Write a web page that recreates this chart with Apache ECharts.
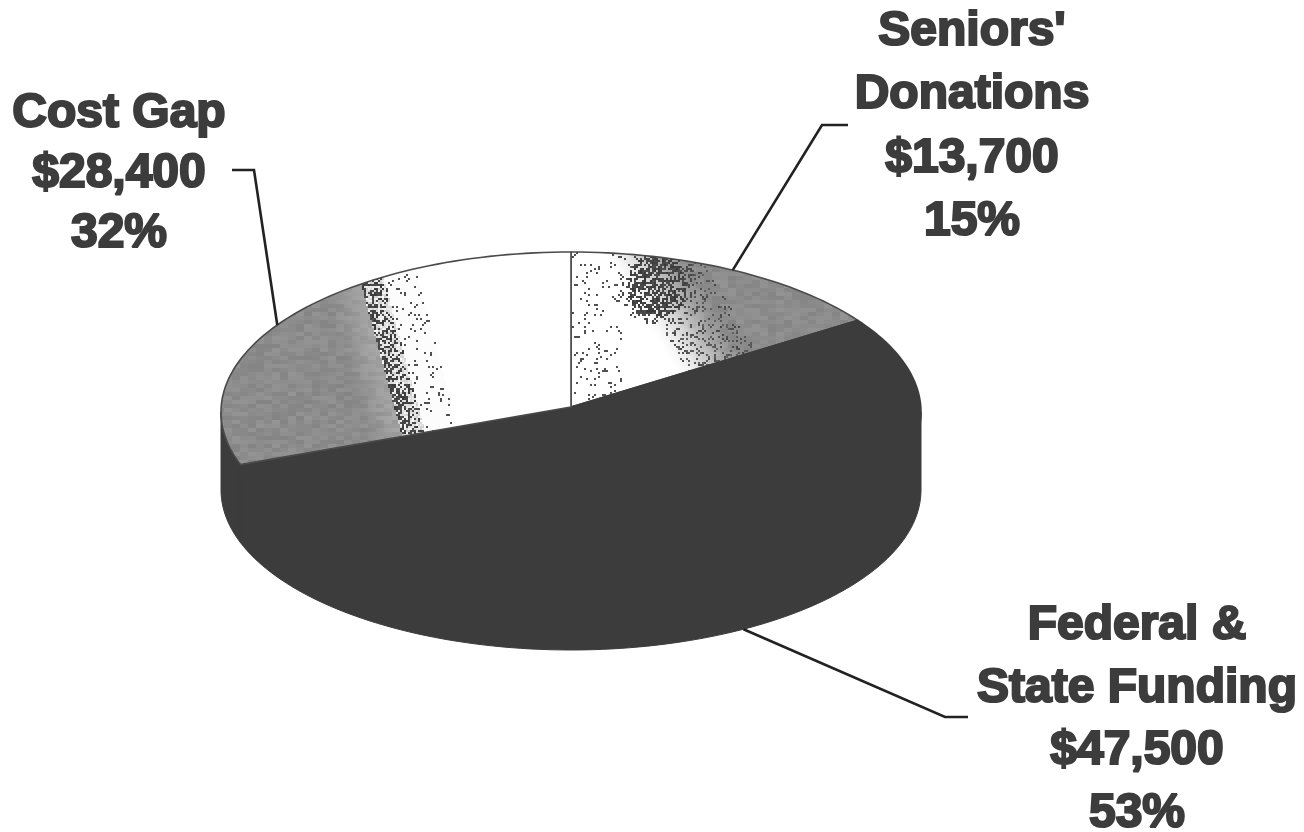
<!DOCTYPE html>
<html>
<head>
<meta charset="utf-8">
<title>Funding sources</title>
<style>html,body{margin:0;padding:0;background:#fff}#chart{width:1304px;height:832px}</style>
<script src="https://cdn.jsdelivr.net/npm/echarts@6/dist/echarts.min.js"></script>
</head>
<body>
<div id="chart"></div>
<script>
// Funding sources, clockwise from twelve o'clock
const sliceNames = ["Seniors'\nDonations", "Federal &\nState Funding", "Cost Gap"];
const amounts = [13700, 47500, 28400];
const amountLabels = ["$13,700", "$47,500", "$28,400"];
const percentLabels = ["15%", "53%", "32%"];

// Pie geometry in pixels
const disc = { cx: 571, cy: 412, rx: 350, ry: 160, depth: 78, apexX: 571, apexY: 407 };
const labelBoxes = [
  { x: 972, y: 127, lineHeight: 63.5, elbow: [822, 125], end: [848, 125] },
  { x: 1137, y: 720, lineHeight: 62.5, elbow: [945, 717], end: [968, 717] },
  { x: 119, y: 174, lineHeight: 60, elbow: [254, 170], end: [232, 170] }
];
const INK = '#3c3c3c';
const total = amounts.reduce((a, b) => a + b, 0);

// Integer hash used for the halftone grain of the lit slices
function grain(x, y) {
  let h = (x * 374761393 + y * 668265263) | 0;
  h = Math.imul(h ^ (h >>> 13), 1274126177);
  h = h ^ (h >>> 16);
  return (h >>> 0) / 4294967296;
}
function smooth(a, b, v) {
  const t = Math.max(0, Math.min(1, (v - a) / (b - a)));
  return t * t * (3 - 2 * t);
}

// Halftone shading: white near the vertical divider, stippled, then mid grey
function buildShading() {
  const W = 1304, H = 832, cell = 2;
  const raw = document.createElement('canvas');
  raw.width = W; raw.height = H;
  const ctx = raw.getContext('2d');
  ctx.fillStyle = '#fff';
  ctx.fillRect(0, 0, W, H);
  for (let y = 240; y < 500; y += cell) {
    for (let x = 210; x < 880; x += cell) {
      const n = grain(x, y), m = grain(x >> 3, y >> 2), b = grain(y, x + 7);
      let level = 255;
      const greyBase = 132 + m * 16;
      if (x < 571) {
        const edge = 358 + (y - 275) * 0.27;
        if (x < edge) {
          level = greyBase + smooth(edge - 40, edge, x) * 22;
        } else if (x < edge + 24) {
          const fade = 0.72 - 0.5 * (x - edge) / 24;
          level = n < fade ? 55 + b * 25 : 205 + b * 45;
        } else if (x < edge + 58) {
          level = n < 0.06 ? 80 : 252;
        }
      } else {
        const greyEdge = 695 + (y - 270) * 0.62;
        const wash = smooth(greyEdge - 85, greyEdge, x);
        level = 255 - wash * (255 - greyBase);
        // sparse specks beside the divider
        if (x < 622 && n < 0.06) level = 80;
        // scattered specks through the wash
        if (x >= greyEdge - 70 && x < greyEdge + 12 && n < 0.2) level = 70 + b * 30;
        // dense dark clump near the rim
        const dx = (x - 656) / 30, dy = (y - 285) / 32;
        const clump = dx * dx + dy * dy;
        if (clump < 1 && n < 0.62) level = 55 + b * 25;
        else if (clump < 1.7 && n < 0.18) level = 75;
      }
      const v = Math.round(level);
      ctx.fillStyle = 'rgb(' + v + ',' + v + ',' + v + ')';
      ctx.fillRect(x, y, cell, cell);
    }
  }
  const soft = document.createElement('canvas');
  soft.width = W; soft.height = H;
  const sctx = soft.getContext('2d');
  sctx.filter = 'blur(0.5px)';
  sctx.drawImage(raw, 0, 0);
  return soft;
}
const shading = buildShading();

// Clockwise angle from twelve o'clock, pulled slightly along the near-left rim by foreshortening
function rimParam(deg) {
  const s = Math.sin(deg * Math.PI / 180);
  return deg + (s < 0 ? 5.9 * s * s : 0);
}
function rim(deg, drop) {
  const t = deg * Math.PI / 180;
  return [disc.cx + disc.rx * Math.sin(t), disc.cy - disc.ry * Math.cos(t) + (drop || 0)];
}
function arc(from, to, drop) {
  const pts = [], steps = Math.max(2, Math.ceil(Math.abs(to - from) / 1.5));
  for (let i = 0; i <= steps; i++) pts.push(rim(from + (to - from) * i / steps, drop));
  return pts;
}

function renderSlice(params, api) {
  const i = params.dataIndex;
  const value = api.value(0);
  let before = 0;
  for (let k = 0; k < i; k++) before += amounts[k];
  const start = before / total * 360, end = (before + value) / total * 360;
  const t0 = rimParam(start), t1 = rimParam(end);
  const children = [];

  // Side wall, only where the rim faces the viewer
  const w0 = Math.max(t0, 90), w1 = Math.min(t1, 270);
  if (w1 > w0) {
    children.push({
      type: 'polygon',
      shape: { points: arc(w0, w1, 0).concat(arc(w1, w0, disc.depth)) },
      style: { fill: INK, stroke: INK, lineWidth: 1 }
    });
  }

  // Top face
  const top = [[disc.apexX, disc.apexY]].concat(arc(t0, t1, 0));
  children.push({
    type: 'polygon',
    shape: { points: top },
    style: {
      fill: i === 1 ? INK : { image: shading, repeat: 'no-repeat' },
      stroke: i === 1 ? INK : '#4a4a4a',
      lineWidth: 1.6,
      lineJoin: 'round'
    }
  });

  // Leader line from the middle of the slice's rim to its label
  const box = labelBoxes[i];
  const mid = (start + end) / 2;
  const anchor = rim(mid, mid > 90 && mid < 270 ? disc.depth : 0);
  children.push({
    type: 'polyline',
    shape: { points: [anchor, box.elbow, box.end] },
    style: { fill: 'none', stroke: '#222', lineWidth: 2.6 }
  });

  // Label block
  children.push({
    type: 'text',
    style: {
      text: [sliceNames[i], amountLabels[i], percentLabels[i]].join('\n'),
      x: box.x,
      y: box.y,
      align: 'center',
      verticalAlign: 'middle',
      fontFamily: '"Liberation Sans", Arial, sans-serif',
      fontWeight: 'bold',
      fontSize: 48,
      lineHeight: box.lineHeight,
      fill: INK,
      stroke: INK,
      lineWidth: 2.2
    }
  });
  return { type: 'group', children: children };
}

const chart = echarts.init(document.getElementById('chart'), null, { renderer: 'canvas' });
chart.setOption({
  animation: false,
  backgroundColor: '#ffffff',
  series: [{
    type: 'custom',
    coordinateSystem: 'none',
    silent: true,
    clip: false,
    renderItem: renderSlice,
    data: amounts.map(v => [v])
  }]
});
</script>
</body>
</html>
